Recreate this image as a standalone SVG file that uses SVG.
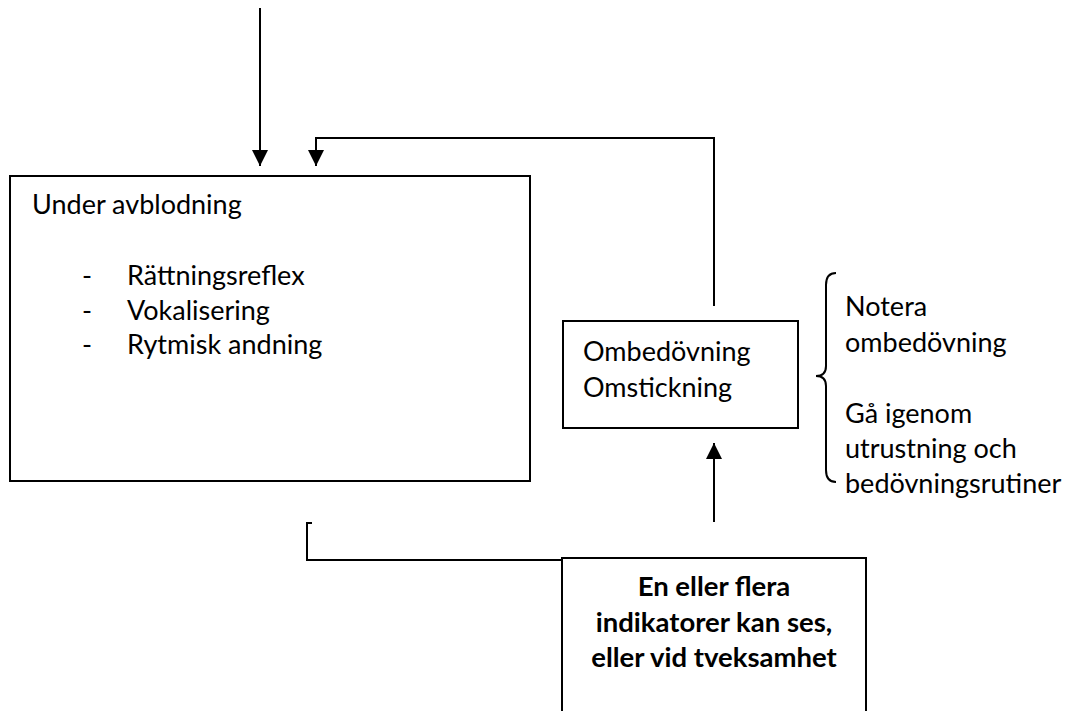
<svg xmlns="http://www.w3.org/2000/svg" width="1076" height="711" viewBox="0 0 1076 711">
<style>
  .box { fill: #ffffff; stroke: #000000; stroke-width: 2; }
  .ln { fill: none; stroke: #000000; stroke-width: 2; }
  .t { font-family: Lato, "Open Sans", "Liberation Sans", sans-serif; font-size: 27px; fill: #000000; }
  .b { font-family: Lato, "Open Sans", "Liberation Sans", sans-serif; font-size: 27.5px; font-weight: bold; fill: #000000; text-anchor: middle; }
</style>
<defs>
  <marker id="arr" viewBox="0 0 16 16" refX="16" refY="8" markerWidth="16" markerHeight="16" markerUnits="userSpaceOnUse" orient="auto">
    <path d="M0,0 L16,8 L0,16 Z" fill="#000000"/>
  </marker>
</defs>
<rect width="1076" height="711" fill="#ffffff"/>

<g id="connectors">
  <line class="ln" x1="260" y1="8" x2="260" y2="166" marker-end="url(#arr)"/>
  <path class="ln" d="M714,306 L714,138 L316,138 L316,166" marker-end="url(#arr)"/>
  <line class="ln" x1="714" y1="522" x2="714" y2="443" marker-end="url(#arr)"/>
  <path class="ln" d="M312,523 L307,523 L307,560 L562,560"/>
</g>

<g id="node-avblodning">
  <rect class="box" x="10" y="176" width="520" height="305"/>
  <text class="t" x="32" y="214">Under avblodning</text>
  <text class="t" x="82" y="285">-</text>
  <text class="t" x="127" y="285">Rättningsreflex</text>
  <text class="t" x="82" y="320">-</text>
  <text class="t" x="127" y="320">Vokalisering</text>
  <text class="t" x="82" y="354">-</text>
  <text class="t" x="127" y="354">Rytmisk andning</text>
</g>

<g id="node-ombedovning">
  <rect class="box" x="563" y="321" width="235" height="107"/>
  <text class="t" x="583" y="361">Ombedövning</text>
  <text class="t" x="583" y="397">Omstickning</text>
</g>

<g id="node-notes">
  <path class="ln" d="M836,273 Q826,273 826,285 L826,366 Q826,376 816,376 Q826,376 826,386 L826,470 Q826,482 836,482" stroke-width="1.5"/>
  <text class="t" x="845" y="316">Notera</text>
  <text class="t" x="845" y="352">ombedövning</text>
  <text class="t" x="845" y="423">Gå igenom</text>
  <text class="t" x="845" y="458">utrustning och</text>
  <text class="t" x="845" y="493">bedövningsrutiner</text>
</g>

<g id="node-indikatorer">
  <rect class="box" x="562" y="558" width="304" height="170"/>
  <text class="b" x="714" y="596">En eller flera</text>
  <text class="b" x="714" y="632">indikatorer kan ses,</text>
  <text class="b" x="714" y="667">eller vid tveksamhet</text>
</g>
</svg>
